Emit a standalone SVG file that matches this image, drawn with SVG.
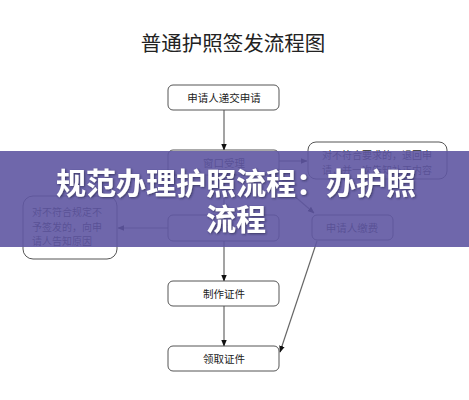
<svg xmlns="http://www.w3.org/2000/svg" width="469" height="400" viewBox="0 0 469 400">
<style>
.box{fill:#ffffff;stroke:#555555;stroke-width:1}
.t{font-family:"Noto Sans CJK SC","Noto Sans",sans-serif;fill:#222222}
.bt{font-size:10.5px;text-anchor:middle}
.nt{font-size:10px}
.ln{stroke:#666666;stroke-width:1.2;fill:none}
.ban{font-family:"Noto Sans CJK SC",sans-serif;font-weight:bold;font-size:30px;fill:#ffffff;text-anchor:middle}
</style>
<defs>
<marker id="ah" viewBox="0 0 10 10" refX="9" refY="5" markerWidth="7" markerHeight="7" orient="auto" markerUnits="userSpaceOnUse">
<path d="M0,1 L10,5 L0,9 Z" fill="#111111"/>
</marker>
<filter id="sh" x="-5%" y="-20%" width="110%" height="140%">
<feDropShadow dx="1" dy="1" stdDeviation="1" flood-color="#222244" flood-opacity="0.7"/>
</filter>
</defs>
<rect x="0" y="0" width="469" height="400" fill="#ffffff"/>
<text class="t" x="233" y="51" font-size="20.5px" text-anchor="middle">普通护照签发流程图</text>
<g id="connectors">
<line class="ln" x1="224" y1="110" x2="224" y2="150" marker-end="url(#ah)"/>
<line class="ln" x1="279" y1="161" x2="307" y2="161" marker-end="url(#ah)"/>
<line class="ln" x1="224" y1="175" x2="224" y2="215"/>
<line class="ln" x1="270" y1="175" x2="314" y2="213" marker-end="url(#ah)"/>
<line class="ln" x1="168" y1="228" x2="118" y2="228" marker-end="url(#ah)"/>
<line class="ln" x1="224" y1="241" x2="224" y2="281" marker-end="url(#ah)"/>
<line class="ln" x1="224" y1="306" x2="224" y2="346" marker-end="url(#ah)"/>
<line class="ln" x1="317" y1="241" x2="280" y2="352" marker-end="url(#ah)"/>
</g>
<g id="n1"><rect class="box" x="168" y="85" width="111" height="25" rx="5"/><text class="t bt" x="224" y="101.5">申请人递交申请</text></g>
<g id="n2"><rect class="box" x="168" y="150" width="111" height="25" rx="5"/><text class="t bt" x="224" y="166.5">窗口受理</text></g>
<g id="n3"><rect class="box" x="308" y="142" width="139" height="37" rx="8"/><text class="t nt" x="322" y="159">对不符合要求的，退回申</text><text class="t nt" x="322" y="174">请，并一次告知补正内容</text></g>
<g id="n4"><rect class="box" x="168" y="215" width="111" height="26" rx="5"/><text class="t bt" x="224" y="232">审批</text></g>
<g id="n5"><rect class="box" x="312" y="215" width="81" height="25" rx="5"/><text class="t bt" x="352" y="231.5">申请人缴费</text></g>
<g id="n6"><rect class="box" x="23" y="196" width="94" height="63" rx="10"/><text class="t nt" x="32" y="216">对不符合规定不</text><text class="t nt" x="32" y="231">予签发的，向申</text><text class="t nt" x="32" y="245">请人告知原因</text></g>
<g id="n7"><rect class="box" x="168" y="281" width="111" height="25" rx="5"/><text class="t bt" x="224" y="297.5">制作证件</text></g>
<g id="n8"><rect class="box" x="168" y="346" width="111" height="25" rx="5"/><text class="t bt" x="224" y="362.5">领取证件</text></g>
<g id="banner">
<rect x="0" y="151" width="469" height="96" fill="#5f57a2" fill-opacity="0.9"/>
<text class="ban" x="236" y="194" filter="url(#sh)">规范办理护照流程：办护照</text>
<text class="ban" x="236" y="230" filter="url(#sh)">流程</text>
</g>
</svg>
